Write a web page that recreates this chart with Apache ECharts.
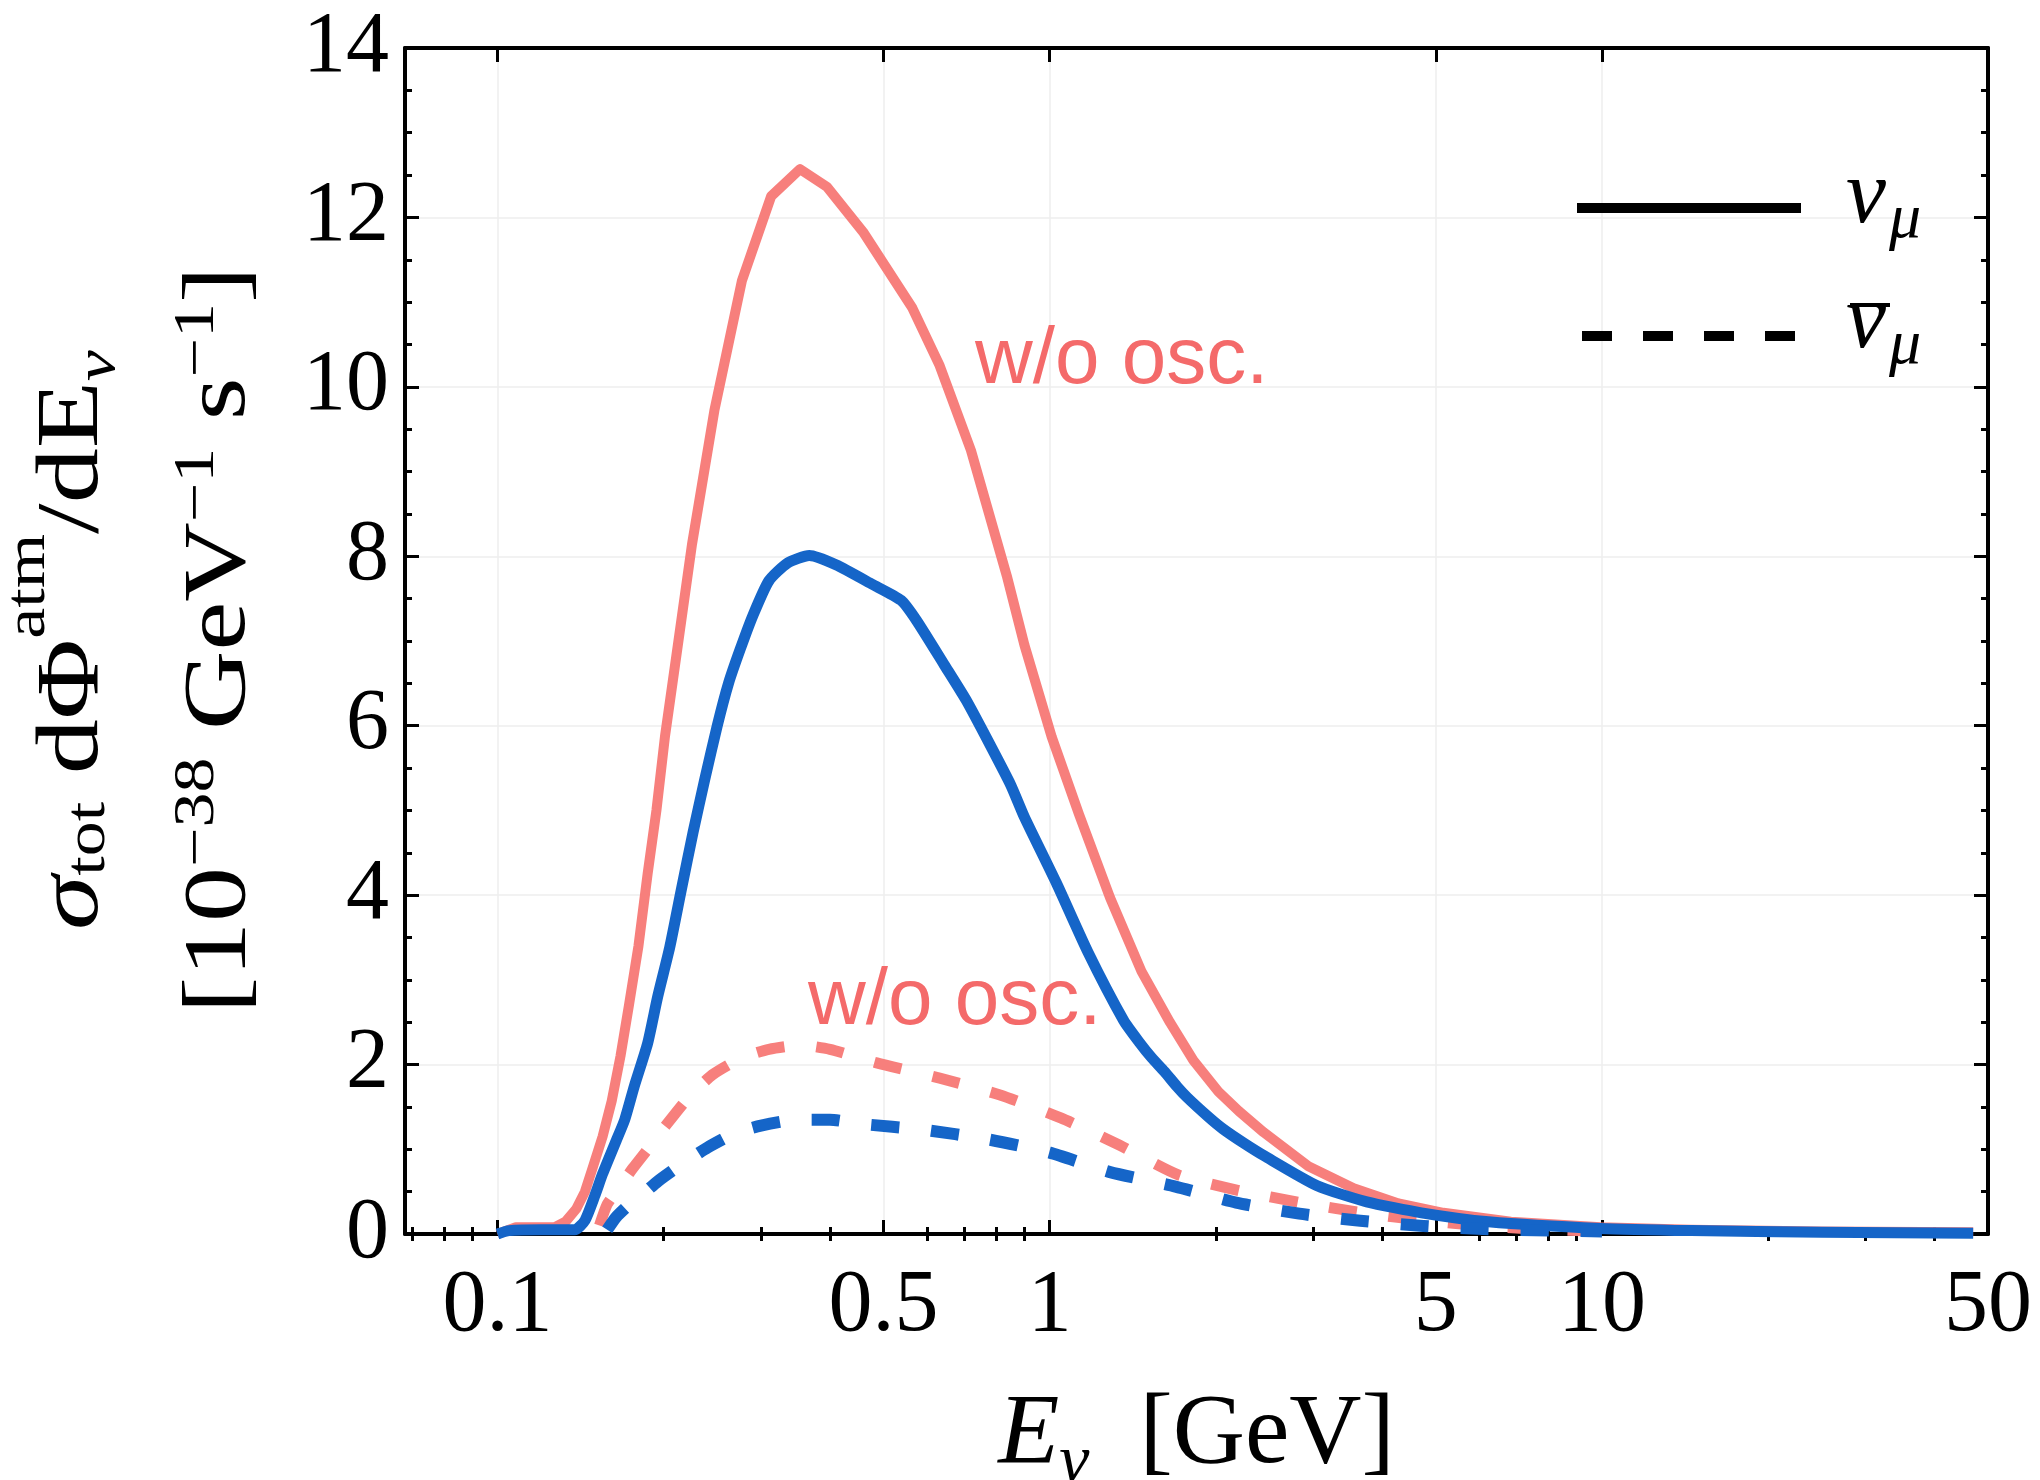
<!DOCTYPE html>
<html>
<head>
<meta charset="utf-8">
<script src="https://cdn.jsdelivr.net/npm/echarts@6/dist/echarts.min.js"></script>
<style>
html,body{margin:0;padding:0;background:#ffffff;}
#chart{width:2040px;height:1480px;}
</style>
</head>
<body>
<div id="chart"></div>
<script>
// ---------------- data ----------------
// nu_mu, without oscillation (pink solid)
const E_numu_noosc = [0.100, 0.108, 0.118, 0.127, 0.133, 0.139, 0.144, 0.149, 0.155, 0.161, 0.167, 0.173, 0.180, 0.187, 0.194, 0.201, 0.210, 0.225, 0.247, 0.277, 0.313, 0.353, 0.395, 0.459, 0.564, 0.632, 0.720, 0.836, 0.900, 1.008, 1.129, 1.286, 1.466, 1.65, 1.82, 2.02, 2.20, 2.44, 2.94, 3.55, 4.28, 5.16, 6.84, 9.94, 14.5, 25, 47];
const numu_noosc   = [0.00, 0.08, 0.08, 0.08, 0.15, 0.30, 0.50, 0.80, 1.15, 1.57, 2.10, 2.70, 3.40, 4.25, 5.00, 5.87, 6.75, 8.14, 9.72, 11.25, 12.25, 12.57, 12.36, 11.83, 10.93, 10.25, 9.25, 7.77, 6.95, 5.87, 4.96, 3.97, 3.10, 2.50, 2.05, 1.68, 1.45, 1.20, 0.80, 0.54, 0.36, 0.25, 0.145, 0.08, 0.05, 0.03, 0.02];

// nu_mu, with oscillation (blue solid)
const E_numu_osc = [0.100, 0.105, 0.120, 0.138, 0.144, 0.150, 0.155, 0.164, 0.170, 0.177, 0.187, 0.195, 0.205, 0.215, 0.226, 0.237, 0.250, 0.262, 0.275, 0.290, 0.310, 0.335, 0.367, 0.410, 0.477, 0.538, 0.574, 0.644, 0.706, 0.776, 0.850, 0.900, 1.027, 1.172, 1.361, 1.45, 1.53, 1.612, 1.70, 1.775, 1.94, 2.06, 2.25, 2.45, 3.05, 3.75, 4.71, 6.23, 9.94, 14.5, 25, 47];
const numu_osc   = [0.00, 0.04, 0.05, 0.05, 0.16, 0.45, 0.71, 1.10, 1.35, 1.75, 2.25, 2.80, 3.38, 4.05, 4.74, 5.35, 6.00, 6.50, 6.90, 7.30, 7.71, 7.92, 8.01, 7.90, 7.67, 7.48, 7.24, 6.72, 6.30, 5.80, 5.30, 4.92, 4.15, 3.33, 2.52, 2.27, 2.08, 1.92, 1.74, 1.61, 1.38, 1.24, 1.07, 0.92, 0.57, 0.38, 0.25, 0.145, 0.066, 0.04, 0.02, 0.01];

// anti-nu_mu, without oscillation (pink dashed)
const E_numubar_noosc = [0.153, 0.158, 0.166, 0.176, 0.187, 0.200, 0.221, 0.245, 0.277, 0.310, 0.354, 0.400, 0.486, 0.632, 0.813, 1.047, 1.336, 1.705, 2.21, 2.85, 3.69, 4.75, 6.23, 8.1, 10];
const numubar_noosc   = [0.10, 0.35, 0.55, 0.78, 1.00, 1.25, 1.60, 1.88, 2.08, 2.18, 2.23, 2.18, 2.02, 1.84, 1.64, 1.37, 1.05, 0.70, 0.51, 0.37, 0.25, 0.16, 0.09, 0.05, 0.03];

// anti-nu_mu, with oscillation (blue dashed)
const E_numubar_osc = [0.158, 0.164, 0.172, 0.181, 0.195, 0.213, 0.240, 0.269, 0.300, 0.350, 0.400, 0.455, 0.591, 0.769, 1.0, 1.286, 1.689, 2.175, 2.83, 3.65, 4.75, 6.23, 8.1, 10];
const numubar_osc   = [0.05, 0.20, 0.33, 0.44, 0.62, 0.80, 1.02, 1.19, 1.28, 1.35, 1.35, 1.30, 1.23, 1.12, 0.96, 0.73, 0.56, 0.37, 0.24, 0.156, 0.095, 0.055, 0.04, 0.03];

// axes
const xTickValues = [0.1, 0.5, 1, 5, 10, 50];
const xTickLabels = ['0.1', '0.5', '1', '5', '10', '50'];
const xMinorTicks = [0.07, 0.08, 0.09, 0.2, 0.3, 0.4, 0.6, 0.7, 0.8, 0.9, 2, 3, 4, 6, 7, 8, 9, 20, 30, 40];
const xRange = [0.068, 50];
const yTickLabels = ['0', '2', '4', '6', '8', '10', '12', '14'];
const yRange = [0, 14];
const annotationText = 'w/o osc.';
const yTitle = '{si|σ}{sb0|tot}{m| dΦ}{sp1|atm}{m|/dE}{sb1|ν}\n{m|[10}{sp2|−38}{m| GeV}{sp2|−1}{m| s}{sp2|−1}{m|]}';
const xTitle = '{ei|E}{sbn|ν}{m|  [GeV]}';

// ---------------- chart ----------------
const pair = (xs, ys) => xs.map((x, i) => [x, ys[i]]);
const PINK = '#F77F7C';
const BLUE = '#1565C8';
const TEXT_PINK = '#F46A6A';
const SERIF = '"Liberation Serif", "Times New Roman", serif';
const SANS = '"Liberation Sans", Arial, sans-serif';

function xLabel(v) {
  for (let i = 0; i < xTickValues.length; i++) {
    if (Math.abs(v - xTickValues[i]) < 1e-9 * Math.max(1, v)) return xTickLabels[i];
  }
  return String(v);
}

function logAxis(extra) {
  return Object.assign({
    type: 'log',
    logBase: 10,
    min: xRange[0],
    max: xRange[1],
    axisLine: { show: false },
    axisLabel: { show: false },
    splitLine: { show: false },
    minorTick: { show: false },
    minorSplitLine: { show: false }
  }, extra);
}

const frame = { show: true, onZero: false, lineStyle: { color: '#000', width: 4 } };
const tickLine = { color: '#000', width: 3 };

function richSerif(size, extra) {
  return Object.assign({ fontFamily: SERIF, fontSize: size, verticalAlign: 'middle', fill: '#000', color: '#000' }, extra);
}

const option = {
  animation: false,
  backgroundColor: '#ffffff',
  grid: { left: 405, right: 52, top: 48, bottom: 246, containLabel: false, outerBoundsMode: 'none' },
  xAxis: [
    logAxis({
      position: 'bottom',
      axisLine: frame,
      axisTick: { show: true, inside: true, length: 14, customValues: xTickValues, lineStyle: tickLine },
      axisLabel: { show: true, customValues: xTickValues, formatter: xLabel, fontFamily: SERIF, fontSize: 88, color: '#000', margin: 29 },
      splitLine: { show: true, lineStyle: { color: '#eeeeee', width: 1.5 } },
      name: xTitle,
      nameLocation: 'middle',
      nameGap: 141,
      nameMoveOverlap: false,
      nameTextStyle: {
        color: '#000',
        rich: {
          ei: { fontFamily: SERIF, fontStyle: 'italic', fontSize: 100, lineHeight: 110, verticalAlign: 'middle', color: '#000' },
          sbn: { fontFamily: SERIF, fontStyle: 'italic', fontSize: 68, padding: [54, 0, 0, 0], verticalAlign: 'middle', color: '#000' },
          m: { fontFamily: SERIF, fontSize: 100, lineHeight: 110, verticalAlign: 'middle', color: '#000' }
        }
      }
    }),
    logAxis({
      position: 'bottom',
      axisTick: { show: true, inside: true, length: 7, customValues: xMinorTicks, lineStyle: tickLine }
    }),
    logAxis({
      position: 'top',
      axisLine: frame,
      axisTick: { show: true, inside: true, length: 14, customValues: xTickValues, lineStyle: tickLine }
    }),
    logAxis({
      position: 'top',
      axisTick: { show: true, inside: true, length: 7, customValues: xMinorTicks, lineStyle: tickLine }
    })
  ],
  yAxis: [
    {
      type: 'value',
      position: 'left',
      min: yRange[0], max: yRange[1], interval: 2,
      axisLine: frame,
      axisTick: { show: true, inside: true, length: 14, lineStyle: tickLine },
      minorTick: { show: true, splitNumber: 4, length: 7, lineStyle: tickLine },
      axisLabel: { fontFamily: SERIF, fontSize: 86, color: '#000', margin: 16, formatter: (v) => yTickLabels[Math.round(v / 2)] },
      splitLine: { show: true, lineStyle: { color: '#eeeeee', width: 1.5 } }
    },
    {
      type: 'value',
      position: 'right',
      min: yRange[0], max: yRange[1], interval: 2,
      axisLine: frame,
      axisTick: { show: true, inside: true, length: 14, lineStyle: tickLine },
      minorTick: { show: true, splitNumber: 4, length: 7, lineStyle: tickLine },
      axisLabel: { show: false },
      splitLine: { show: false }
    }
  ],
  series: [
    {
      type: 'line', name: 'numu no osc', xAxisIndex: 0, yAxisIndex: 0,
      data: pair(E_numu_noosc, numu_noosc),
      symbol: 'none', showSymbol: false, z: 3,
      lineStyle: { color: PINK, width: 10, join: 'round', cap: 'butt' }
    },
    {
      type: 'line', name: 'numubar no osc', xAxisIndex: 0, yAxisIndex: 0,
      data: pair(E_numubar_noosc, numubar_noosc),
      symbol: 'none', showSymbol: false, z: 3, smooth: 0.2,
      lineStyle: { color: PINK, width: 11, type: [28, 32], join: 'round', cap: 'butt' }
    },
    {
      type: 'line', name: 'numu osc', xAxisIndex: 0, yAxisIndex: 0,
      data: pair(E_numu_osc, numu_osc),
      symbol: 'none', showSymbol: false, z: 4, smooth: 0.2,
      lineStyle: { color: BLUE, width: 11, join: 'round', cap: 'butt' }
    },
    {
      type: 'line', name: 'numubar osc', xAxisIndex: 0, yAxisIndex: 0,
      data: pair(E_numubar_osc, numubar_osc),
      symbol: 'none', showSymbol: false, z: 4, smooth: 0.2,
      lineStyle: { color: BLUE, width: 12, type: [28, 32], join: 'round', cap: 'butt' }
    }
  ],
  graphic: [
    // y-axis title (rotated, stretched along its baseline like the reference)
    {
      type: 'text', z: 10, x: 147, y: 640, rotation: Math.PI / 2, scaleX: 1.25, scaleY: 1,
      style: {
        text: yTitle,
        textAlign: 'center', textVerticalAlign: 'middle',
        fill: '#000', font: '88px ' + SERIF,
        rich: {
          m: richSerif(88, { lineHeight: 147 }),
          si: richSerif(88, { lineHeight: 147, fontStyle: 'italic' }),
          sb0: richSerif(56, { padding: [32, 0, 0, 0] }),
          sb1: richSerif(56, { fontStyle: 'italic', padding: [52, 0, 0, 0] }),
          sp1: richSerif(56, { padding: [0, 0, 88, 0] }),
          sp2: richSerif(56, { padding: [0, 0, 44, 0] })
        }
      }
    },
    // legend
    { type: 'line', z: 10, shape: { x1: 1577, y1: 208, x2: 1801, y2: 208 }, style: { stroke: '#000', lineWidth: 10 } },
    { type: 'line', z: 10, shape: { x1: 1582, y1: 336, x2: 1796, y2: 336 }, style: { stroke: '#000', lineWidth: 10, lineDash: [30, 31] } },
    { type: 'text', z: 10, x: 1846, y: 198, style: { text: 'ν', font: 'italic 90px ' + SERIF, fill: '#000', textAlign: 'left', textVerticalAlign: 'middle' } },
    { type: 'text', z: 10, x: 1889, y: 220, style: { text: 'μ', font: 'italic 64px ' + SERIF, fill: '#000', textAlign: 'left', textVerticalAlign: 'middle' } },
    { type: 'text', z: 10, x: 1846, y: 323, style: { text: 'ν', font: 'italic 90px ' + SERIF, fill: '#000', textAlign: 'left', textVerticalAlign: 'middle' } },
    { type: 'line', z: 10, shape: { x1: 1850, y1: 305, x2: 1890, y2: 305 }, style: { stroke: '#000', lineWidth: 4 } },
    { type: 'text', z: 10, x: 1889, y: 346, style: { text: 'μ', font: 'italic 64px ' + SERIF, fill: '#000', textAlign: 'left', textVerticalAlign: 'middle' } },
    // annotations
    { type: 'text', z: 10, x: 975, y: 361, style: { text: annotationText, font: '80px ' + SANS, fill: TEXT_PINK, textAlign: 'left', textVerticalAlign: 'middle' } },
    { type: 'text', z: 10, x: 808, y: 1002, style: { text: annotationText, font: '80px ' + SANS, fill: TEXT_PINK, textAlign: 'left', textVerticalAlign: 'middle' } }
  ]
};

const chart = echarts.init(document.getElementById('chart'), null, { renderer: 'canvas', width: 2040, height: 1480 });
chart.setOption(option);
</script>
</body>
</html>
